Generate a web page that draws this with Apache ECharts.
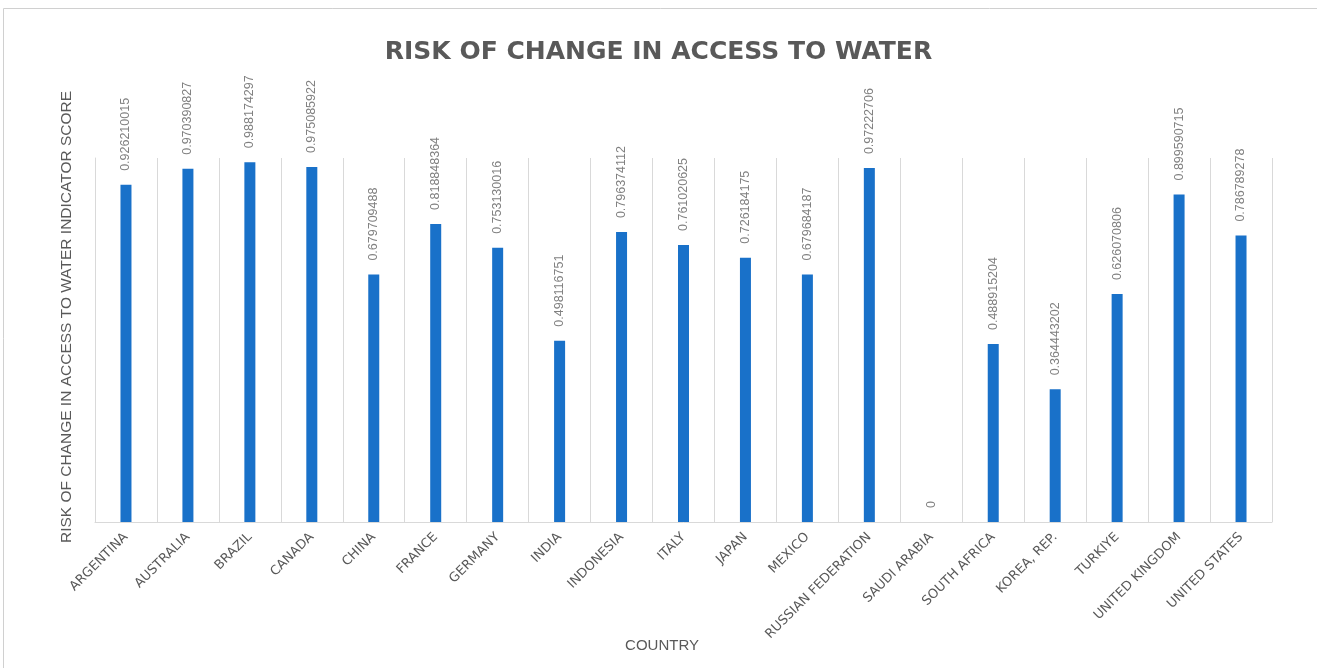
<!DOCTYPE html>
<html>
<head>
<meta charset="utf-8">
<script src="https://cdn.jsdelivr.net/npm/echarts@6/dist/echarts.min.js"></script>
<style>html,body{margin:0;padding:0;background:#fff;}#c{width:1317px;height:668px;}</style>
</head>
<body>
<div id="c"></div>
<script>
const categories = ['ARGENTINA','AUSTRALIA','BRAZIL','CANADA','CHINA','FRANCE','GERMANY','INDIA','INDONESIA','ITALY','JAPAN','MEXICO','RUSSIAN FEDERATION','SAUDI ARABIA','SOUTH AFRICA','KOREA, REP.','TURKIYE','UNITED KINGDOM','UNITED STATES'];
const scores = [0.926210015,0.970390827,0.988174297,0.975085922,0.679709488,0.818848364,0.753130016,0.498116751,0.796374112,0.761020625,0.726184175,0.679684187,0.97222706,0,0.488915204,0.364443202,0.626070806,0.899590715,0.786789278];
const titleText = 'RISK OF CHANGE IN ACCESS TO WATER';
const yTitle = 'RISK OF CHANGE IN ACCESS TO WATER INDICATOR SCORE';
const xTitle = 'COUNTRY';

const chart = echarts.init(document.getElementById('c'), null, {renderer:'canvas'});
chart.setOption({
  backgroundColor:'#fff',
  animation:false,
  title:{
    text:titleText, left:'center', top:35,
    textStyle:{fontFamily:'DejaVu Sans', fontWeight:'bold', fontSize:25, color:'#595959'}
  },
  graphic:[
    {type:'rect', shape:{x:3.5,y:8.5,width:1330,height:680}, style:{fill:'none', stroke:'#d0d0d0', lineWidth:1}, silent:true},
    {type:'text', x:67, y:317, rotation:Math.PI/2, style:{text:yTitle, fontFamily:'Liberation Sans', fontSize:15.5, fill:'#595959', align:'center', verticalAlign:'middle'}},
    {type:'text', x:662, y:646, style:{text:xTitle, fontFamily:'Liberation Sans', fontSize:15, fill:'#595959', align:'center', verticalAlign:'middle'}}
  ],
  grid:{left:95, right:45, top:158, bottom:146, containLabel:false},
  xAxis:{
    type:'category', data:categories,
    axisLine:{show:true, lineStyle:{color:'#d9d9d9', width:1}},
    axisTick:{show:false},
    splitLine:{show:true, interval:0, lineStyle:{color:'#d9d9d9', width:1}},
    axisLabel:{interval:0, rotate:45, margin:13, fontFamily:'DejaVu Sans', fontSize:13, color:'#595959'}
  },
  yAxis:{
    type:'value', min:0, max:1,
    axisLine:{show:true, lineStyle:{color:'#d9d9d9'}},
    axisTick:{show:false}, axisLabel:{show:false}, splitLine:{show:false}
  },
  series:[{
    type:'bar', data:scores, barWidth:11,
    itemStyle:{color:'#1971c9'},
    label:{show:true, position:'top', rotate:90, align:'left', verticalAlign:'middle', distance:14,
      fontFamily:'Liberation Sans', fontSize:12.5, color:'#808080',
      formatter:p=>String(p.value)}
  }]
});
</script>
</body>
</html>
